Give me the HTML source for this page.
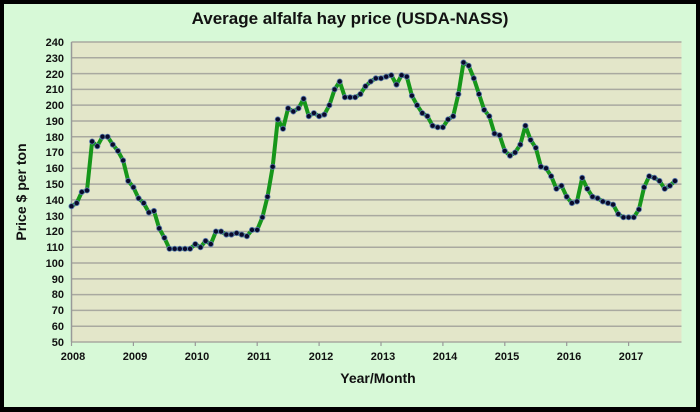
<!DOCTYPE html>
<html><head><meta charset="utf-8"><style>
html,body{margin:0;padding:0;background:#000;}
svg{display:block;font-family:"Liberation Sans",sans-serif;font-weight:bold;}
</style></head><body>
<svg id="s" width="700" height="412" xmlns="http://www.w3.org/2000/svg">
<rect x="0" y="0" width="700" height="412" fill="#000"/>
<rect x="4" y="4" width="692" height="403" fill="#d7f9d7"/>
<rect x="71.5" y="42" width="610" height="300" fill="#e3e6c9"/>
<g id="grid"></g>
<text x="350" y="24" text-anchor="middle" font-size="17" fill="#111">Average alfalfa hay price (USDA-NASS)</text>
<text transform="translate(26,192) rotate(-90)" text-anchor="middle" font-size="14" fill="#111">Price $ per ton</text>
<text x="378" y="383" text-anchor="middle" font-size="14" fill="#111">Year/Month</text>
<g id="yl" font-size="11" fill="#111" text-anchor="end">
<text x="64" y="46">240</text><text x="64" y="62">230</text><text x="64" y="78">220</text><text x="64" y="93">210</text><text x="64" y="109">200</text><text x="64" y="125">190</text><text x="64" y="141">180</text><text x="64" y="156">170</text><text x="64" y="172">160</text><text x="64" y="188">150</text><text x="64" y="204">140</text><text x="64" y="220">130</text><text x="64" y="235">120</text><text x="64" y="251">110</text><text x="64" y="267">100</text><text x="64" y="283">90</text><text x="64" y="298">80</text><text x="64" y="314">70</text><text x="64" y="330">60</text><text x="64" y="346">50</text>
</g>
<g font-size="11" fill="#111" text-anchor="middle">
<text x="73" y="360">2008</text><text x="135" y="360">2009</text><text x="197" y="360">2010</text><text x="259" y="360">2011</text><text x="321" y="360">2012</text><text x="383" y="360">2013</text><text x="445" y="360">2014</text><text x="507" y="360">2015</text><text x="569" y="360">2016</text><text x="631" y="360">2017</text>
</g>
<g id="data"></g>
</svg>
<script>
var NS="http://www.w3.org/2000/svg";
function y(v){return 342-(v-50)*300/190;}
var g=document.getElementById("grid"),h="";
for(var v=50;v<=240;v+=10){h+='<line x1="71.5" x2="681.5" y1="'+y(v)+'" y2="'+y(v)+'" stroke="#a9a9a0" stroke-width="1.5"/>';}
h+='<line x1="71.5" x2="71.5" y1="42" y2="342" stroke="#999" stroke-width="1.5"/>';
for(var i=0;i<10;i++){var x=71.5+i*61.9;h+='<line x1="'+x+'" x2="'+x+'" y1="342" y2="346" stroke="#999" stroke-width="1.2"/>';}
g.innerHTML=h;
var d=[136,138,145,146,177,174,180,180,175,171,165,152,
148,141,138,132,133,122,116,109,109,109,109,109,
112,110,114,112,120,120,118,118,119,118,117,121,
121,129,142,161,191,185,198,196,198,204,193,195,
193,194,200,210,215,205,205,205,207,212,215,217,
217,218,219,213,219,218,206,200,195,193,187,186,
186,191,193,207,227,225,217,207,197,193,182,181,
171,168,170,175,187,178,173,161,160,155,147,149,
142,138,139,154,147,142,141,139,138,137,131,129,
129,129,134,148,155,154,152,147,149,152];
var pts=[],c="";
for(var i=0;i<d.length;i++){var x=71.5+i*61.9/12,yy=y(d[i]);pts.push(x.toFixed(1)+","+yy.toFixed(1));
c+='<circle cx="'+x.toFixed(1)+'" cy="'+yy.toFixed(1)+'" r="2.6" fill="#0a0a2a" stroke="#5a7ab0" stroke-width="0.8"/>';}
document.getElementById("data").innerHTML='<polyline points="'+pts.join(" ")+'" fill="none" stroke="#16961a" stroke-width="4" stroke-linejoin="round"/>'+c;
</script>
</body></html>
